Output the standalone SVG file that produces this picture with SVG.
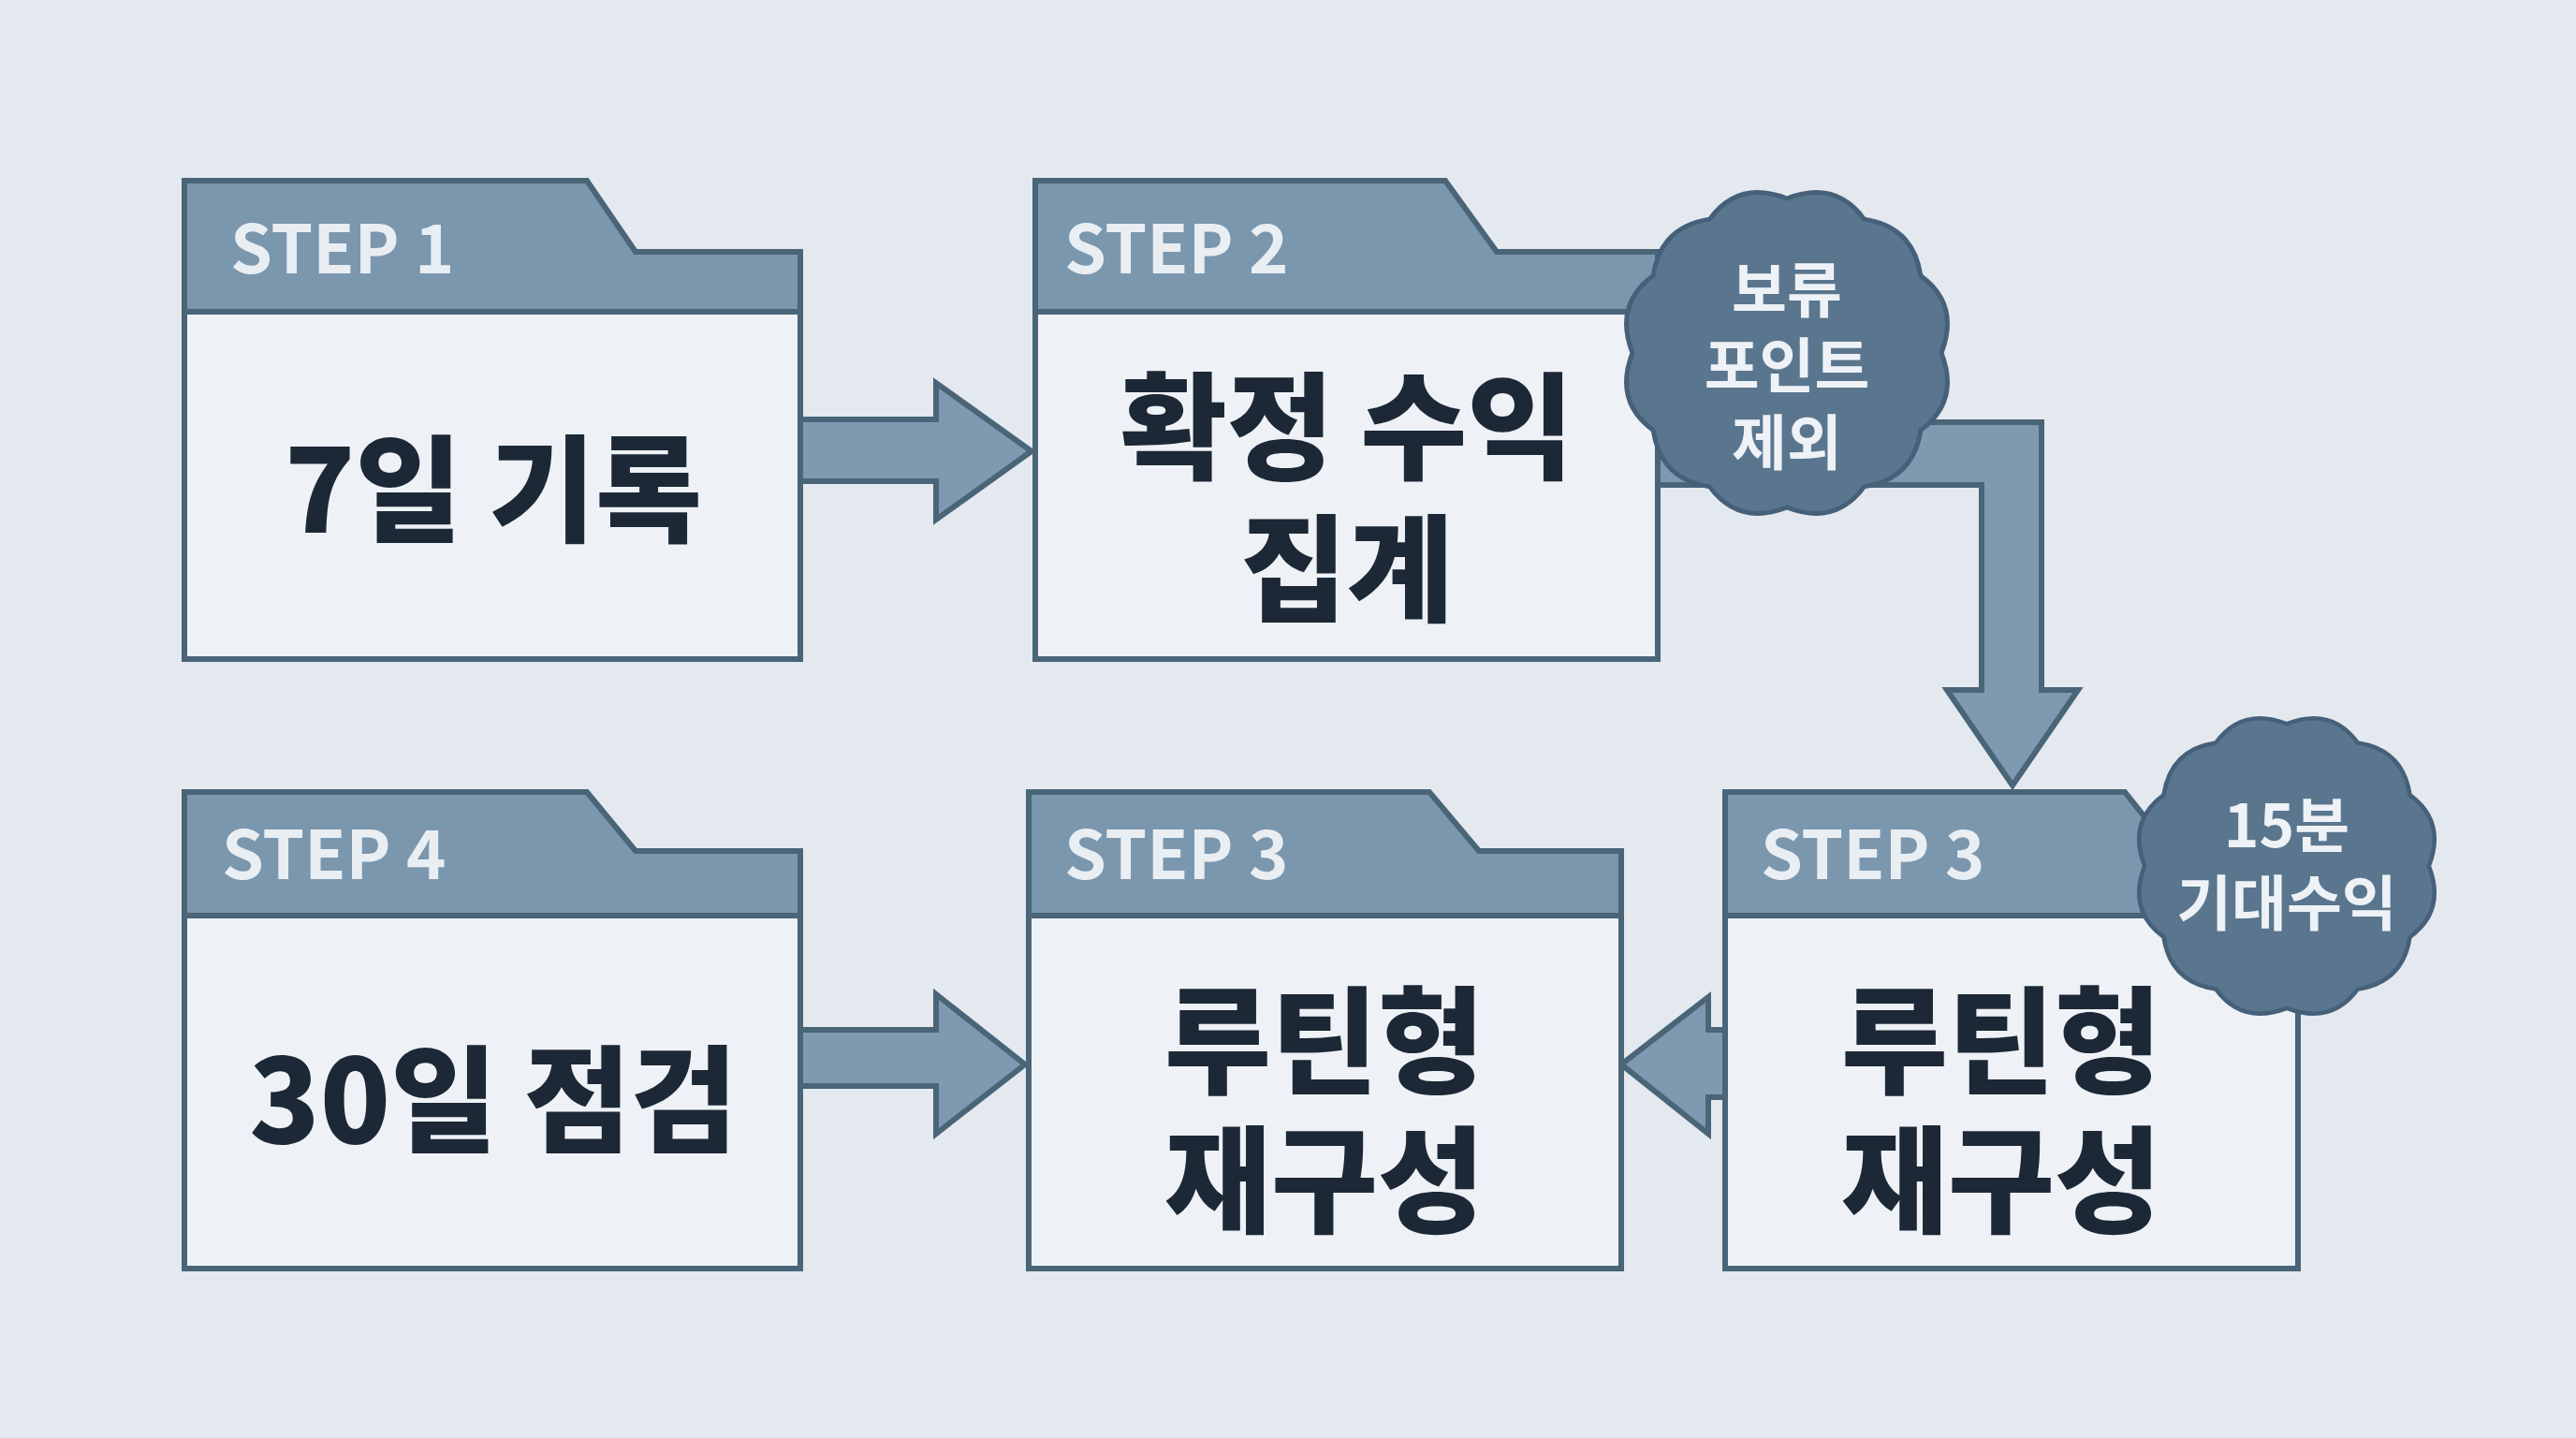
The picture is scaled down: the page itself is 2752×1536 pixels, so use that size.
<svg xmlns="http://www.w3.org/2000/svg" width="2752" height="1536" viewBox="0 0 2752 1536">
<defs>
<style>
.hd{fill:#7b97ae;stroke:#4a6478;stroke-width:6}
.bd{fill:#eef2f6;stroke:#4a6478;stroke-width:6}
.st{font-family:"Noto Sans CJK KR","Liberation Sans",sans-serif;font-weight:700;font-size:72px;fill:#e9eef3}
.tx{font-family:"Noto Sans CJK KR",sans-serif;font-weight:900;font-size:124px;fill:#1c2836;text-anchor:middle;dominant-baseline:central}
.ar{fill:#7f9ab0;stroke:#4a6478;stroke-width:6;stroke-linejoin:miter}
.bg{fill:#5a768e;stroke:#46607a;stroke-width:5}
.bt{font-family:"Noto Sans CJK KR",sans-serif;font-weight:700;font-size:64px;fill:#eef2f6;text-anchor:middle;dominant-baseline:central}
</style>
<path id="sc" d="M165,0 Q185,51.8 142.9,82.5 Q135,135 82.5,142.9 Q51.8,185 0,165 Q-51.8,185 -82.5,142.9 Q-135,135 -142.9,82.5 Q-185,51.8 -165,0 Q-185,-51.8 -142.9,-82.5 Q-135,-135 -82.5,-142.9 Q-51.8,-185 0,-165 Q51.8,-185 82.5,-142.9 Q135,-135 142.9,-82.5 Q185,-51.8 165,0Z"/>
</defs>
<rect width="2752" height="1536" fill="#e3e9ef"/>
<g id="connectors">
<path class="ar" d="M855,448 H1000 V409 L1102,482 L1000,555 V514 H855Z"/>
<path class="ar" d="M1771,451 H2181 V737 H2220 L2150,839 L2080,737 H2117 V518 H1771Z"/>
<path class="ar" d="M1843,1100 H1825 V1065 L1732,1137 L1825,1211 V1172 H1843Z"/>
<path class="ar" d="M855,1100 H1000 V1062 L1095,1137 L1000,1211 V1160 H855Z"/>
</g>
<g id="step1">
<path class="hd" d="M197,333 V193 H627 L679,269 H855 V333Z"/>
<rect class="bd" x="197" y="333" width="658" height="371"/>
<text class="st" x="246" y="292">STEP 1</text>
<text class="tx" x="527" y="515">7일 기록</text>
</g>
<g id="step2">
<path class="hd" d="M1106,333 V193 H1544 L1599,269 H1771 V333Z"/>
<rect class="bd" x="1106" y="333" width="665" height="371"/>
<text class="st" x="1137" y="292">STEP 2</text>
<text class="tx" x="1439" y="448">확정 수익</text>
<text class="tx" x="1439" y="600">집계</text>
</g>
<g id="step3b">
<path class="hd" d="M1843,978 V846 H2270 L2320,909 H2455 V978Z"/>
<rect class="bd" x="1843" y="978" width="612" height="377"/>
<text class="st" x="1881" y="939">STEP 3</text>
<text class="tx" x="2138" y="1104">루틴형</text>
<text class="tx" x="2138" y="1253">재구성</text>
</g>
<g id="step3a">
<path class="hd" d="M1099,978 V846 H1527 L1580,909 H1732 V978Z"/>
<rect class="bd" x="1099" y="978" width="633" height="377"/>
<text class="st" x="1137" y="939">STEP 3</text>
<text class="tx" x="1415" y="1104">루틴형</text>
<text class="tx" x="1415" y="1253">재구성</text>
</g>
<g id="step4">
<path class="hd" d="M197,978 V846 H627 L679,909 H855 V978Z"/>
<rect class="bd" x="197" y="978" width="658" height="377"/>
<text class="st" x="237" y="939">STEP 4</text>
<text class="tx" x="527" y="1167">30일 점검</text>
</g>
<g id="badge1">
<use href="#sc" class="bg" transform="translate(1909,377)"/>
<text class="bt" x="1909" y="305">보류</text>
<text class="bt" x="1909" y="386">포인트</text>
<text class="bt" x="1909" y="468">제외</text>
</g>
<g id="badge2">
<use href="#sc" class="bg" transform="translate(2443,925) scale(0.92)"/>
<text class="bt" x="2443" y="877">15분</text>
<text class="bt" x="2443" y="960">기대수익</text>
</g>
</svg>
